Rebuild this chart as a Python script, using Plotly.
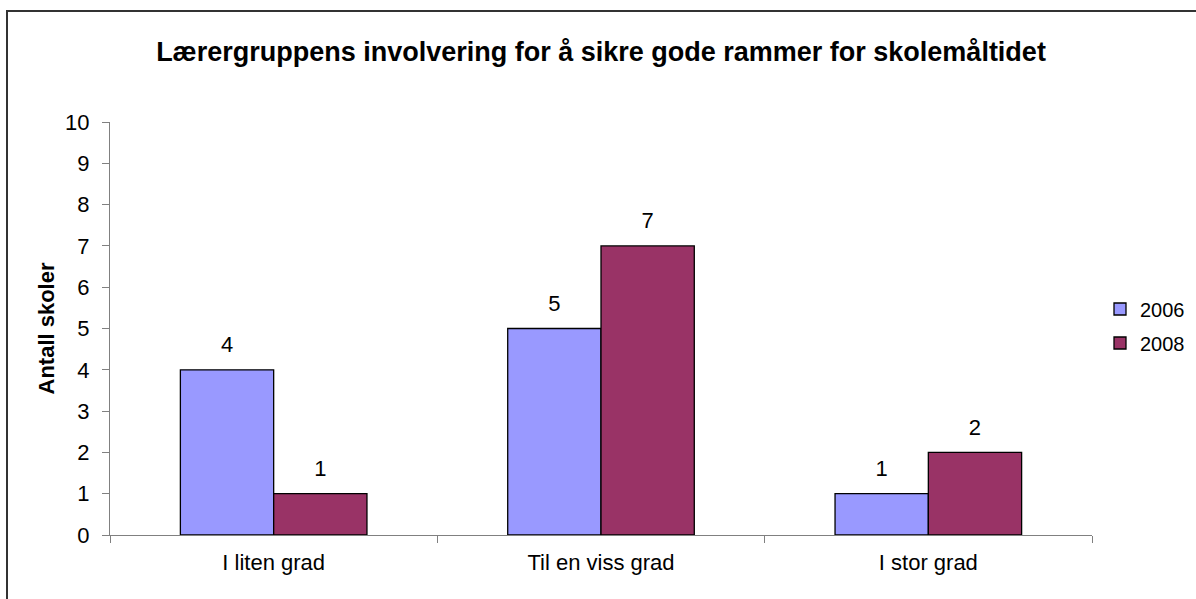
import plotly.graph_objects as go

# Survey results: number of schools per answer category
categories = ["I liten grad", "Til en viss grad", "I stor grad"]
years = ["2006", "2008"]
values_2006 = [4, 5, 1]
values_2008 = [1, 7, 2]
y_ticks = list(range(0, 11))

title_text = "Lærergruppens involvering for å sikre gode rammer for skolemåltidet"
y_title = "Antall skoler"

colors = {"2006": "#9999FF", "2008": "#993366"}
FONT = "Liberation Sans, Arial, sans-serif"

W, H = 1196, 599
M = dict(l=110, r=104, t=122, b=64, autoexpand=False)

fig = go.Figure()
for name, vals in zip(years, [values_2006, values_2008]):
    fig.add_trace(go.Bar(
        name=name,
        x=categories,
        y=vals,
        offsetgroup=name,
        legendgroup=name,
        marker=dict(color=colors[name], line=dict(color="#000000", width=1.3)),
    ))

# value labels above each bar, aligned with the bar groups
for name, vals in zip(years, [values_2006, values_2008]):
    fig.add_trace(go.Scatter(
        x=categories,
        y=vals,
        offsetgroup=name,
        legendgroup=name,
        mode="markers+text",
        marker=dict(size=18, opacity=0),
        text=[str(v) for v in vals],
        textposition="top center",
        textfont=dict(size=22, color="#000000", family=FONT),
        cliponaxis=False,
        showlegend=False,
        hoverinfo="skip",
    ))

# chart frame (left and top edges visible)
pw = W - M["l"] - M["r"]
ph = H - M["t"] - M["b"]
fig.add_shape(
    type="rect", xref="paper", yref="paper",
    x0=(7 - M["l"]) / pw, x1=(W + 20 - M["l"]) / pw,
    y0=-(H + 20 - M["t"] - ph) / ph, y1=(H - 11 - M["b"]) / ph,
    line=dict(color="#333333", width=2), fillcolor="rgba(0,0,0,0)", layer="below",
)

fig.update_layout(
    width=W, height=H,
    margin=M,
    paper_bgcolor="#FFFFFF",
    plot_bgcolor="#FFFFFF",
    barmode="group",
    bargap=0.43,
    bargroupgap=0,
    scattermode="group",
    scattergap=0.43,
    font=dict(family=FONT, size=22, color="#000000"),
    title=dict(
        text="<b>" + title_text + "</b>",
        x=0.5, xanchor="center", xref="paper",
        y=1 - 52 / H, yanchor="middle",
        font=dict(size=27, family=FONT, color="#000000"),
    ),
    showlegend=True,
    legend=dict(
        xref="container", yref="container",
        x=1100 / W, xanchor="left", y=1 - 326 / H, yanchor="middle",
        font=dict(size=20, family=FONT),
        itemwidth=30, traceorder="grouped", tracegroupgap=5,
        bgcolor="rgba(0,0,0,0)",
    ),
    xaxis=dict(
        type="category",
        showline=True, linecolor="#808080", linewidth=1,
        ticks="outside", ticklen=7, tickcolor="#808080", tickwidth=1,
        tickson="boundaries",
        showgrid=False, zeroline=False,
        tickfont=dict(size=22, family=FONT),
        ticklabelstandoff=8,
    ),
    yaxis=dict(
        range=[0, 10],
        tickvals=y_ticks,
        showline=True, linecolor="#808080", linewidth=1,
        ticks="outside", ticklen=7, tickcolor="#808080", tickwidth=1,
        showgrid=False, zeroline=False,
        tickfont=dict(size=22, family=FONT),
        ticklabelstandoff=8,
        title=dict(text="<b>" + y_title + "</b>", font=dict(size=22, family=FONT), standoff=4),
    ),
)

fig.write_html("out.html")
